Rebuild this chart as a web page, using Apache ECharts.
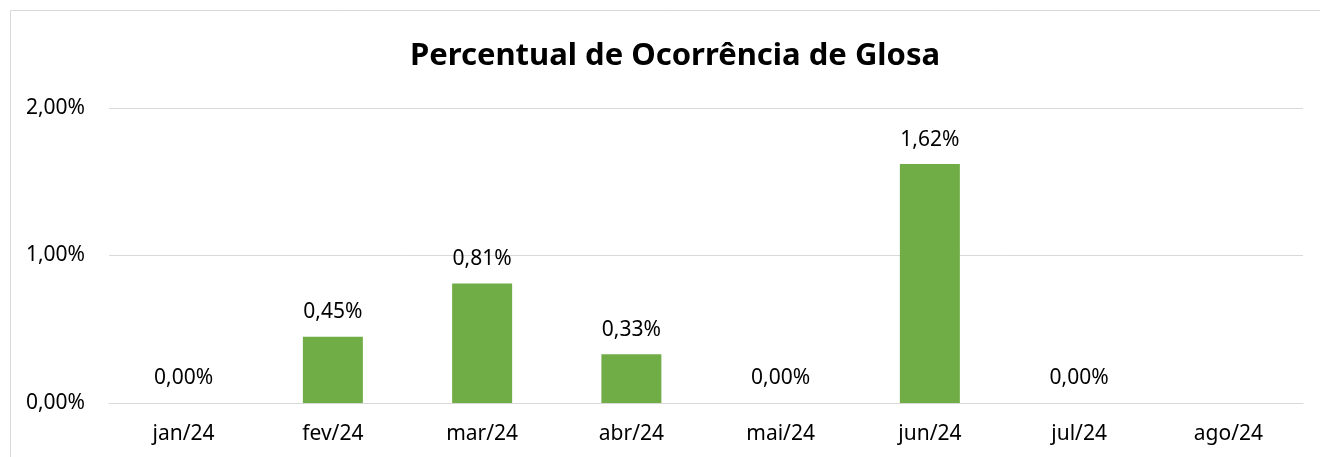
<!DOCTYPE html>
<html lang="pt">
<head>
    <meta charset="UTF-8">
    <title>Percentual de Ocorrência de Glosa</title>
    <style type="text/css">
        html, body { margin: 0; padding: 0; background: #fff; }
        #glosaChart { width: 1320px; height: 457px; }
    </style>
</head>
<body>
<div id="glosaChart"></div>
<script src="https://cdn.jsdelivr.net/npm/echarts@6/dist/echarts.min.js"></script>
<script type="text/javascript">
    // meses
    var meses = ['jan/24', 'fev/24', 'mar/24', 'abr/24', 'mai/24', 'jun/24', 'jul/24', 'ago/24'];
    // percentual de glosa (%), ago sem valor
    var percentuais = [0.00, 0.45, 0.81, 0.33, 0.00, 1.62, 0.00, null];
    // eixo y
    var eixoMin = 0, eixoMax = 2, eixoIntervalo = 1;

    var fmt = function (v) {
        return v.toFixed(2).replace('.', ',') + '%';
    };

    var glosaChart = echarts.init(document.getElementById('glosaChart'));

    var option = {
        animation: false,
        textStyle: { fontFamily: 'Noto Sans' },
        graphic: [{
            type: 'rect',
            shape: { x: 10.5, y: 10.5, width: 1330, height: 470 },
            style: { fill: 'none', stroke: '#d9d9d9', lineWidth: 1 },
            silent: true
        }],
        title: {
            text: 'Percentual de Ocorrência de Glosa',
            left: 670,
            top: 36,
            textAlign: 'center',
            textStyle: { fontSize: 31, fontWeight: 'bold', color: '#000', fontFamily: 'Noto Sans' }
        },
        grid: { left: 109, right: 17, top: 108, bottom: 54, containLabel: false },
        xAxis: {
            type: 'category',
            data: meses,
            axisLine: { show: true, lineStyle: { color: '#d9d9d9', width: 1 } },
            axisTick: { show: false },
            axisLabel: { color: '#000', fontSize: 21, margin: 21 }
        },
        yAxis: {
            type: 'value',
            min: eixoMin,
            max: eixoMax,
            interval: eixoIntervalo,
            axisLine: { show: false },
            axisTick: { show: false },
            splitLine: { lineStyle: { color: '#d9d9d9', width: 1 } },
            axisLabel: { color: '#000', fontSize: 21, margin: 24, formatter: fmt }
        },
        series: [{
            type: 'bar',
            data: percentuais,
            barWidth: 60,
            itemStyle: { color: '#70ad47' },
            label: {
                show: true,
                position: 'top',
                distance: 14,
                color: '#000',
                fontSize: 21,
                formatter: function (p) { return fmt(p.value); }
            }
        }]
    };
    glosaChart.setOption(option);
</script>
</body>
</html>
